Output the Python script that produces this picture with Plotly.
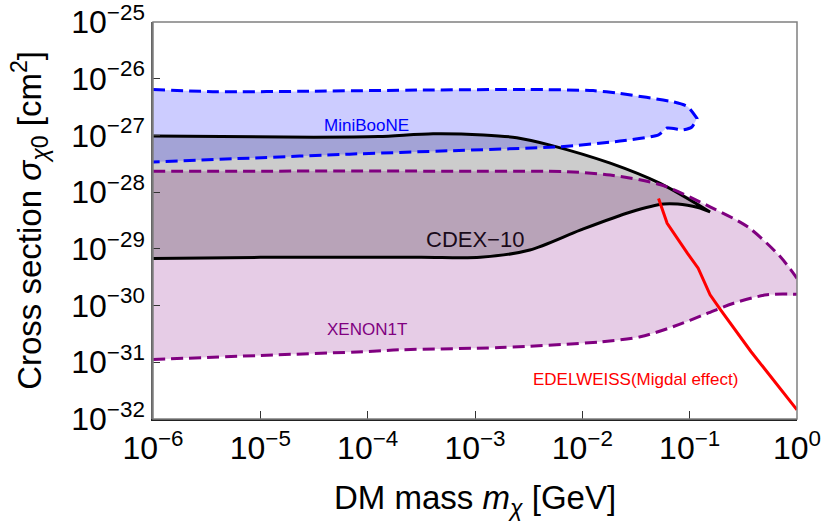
import math
import plotly.graph_objects as go

# ---------------- data ----------------
miniboone_upper_mass = [1e-6, 3.98e-6, 3.16e-5, 3.16e-4, 3.16e-3, 1.26e-2, 2.24e-2, 7.08e-2, 0.0955, 0.117]
miniboone_upper_sigma = [6.46e-27, 5.89e-27, 6.03e-27, 6.31e-27, 6.46e-27, 6.17e-27, 5.50e-27, 3.89e-27, 3.24e-27, 2.00e-27]
miniboone_lower_mass = [0.117, 0.105, 0.0871, 0.0617, 0.0513, 0.0224, 6.17e-3, 5.89e-4, 6.76e-5, 7.94e-6, 1e-6]
miniboone_lower_sigma = [2.00e-27, 1.41e-27, 1.26e-27, 1.35e-27, 1.02e-27, 7.94e-28, 6.31e-28, 5.37e-28, 4.68e-28, 3.98e-28, 3.39e-28]

cdex_upper_mass = [1e-6, 3.16e-5, 1.26e-4, 4.07e-4, 1.20e-3, 2.45e-3, 5.01e-3, 1.82e-2, 5.37e-2, 0.155]
cdex_upper_sigma = [9.77e-28, 9.33e-28, 9.55e-28, 1.07e-27, 1.02e-27, 9.12e-28, 6.76e-28, 3.24e-28, 1.41e-28, 4.47e-29]
cdex_lower_mass = [0.155, 0.120, 0.0955, 0.0575, 0.0282, 9.55e-3, 3.24e-3, 1.12e-3, 3.16e-4, 1e-5, 1e-6]
cdex_lower_sigma = [4.47e-29, 5.37e-29, 5.89e-29, 6.17e-29, 4.47e-29, 2.14e-29, 9.55e-30, 7.08e-30, 7.08e-30, 7.08e-30, 6.76e-30]

xenon_upper_mass = [1e-6, 1e-3, 7.24e-3, 1.82e-2, 5.37e-2, 0.155, 0.347, 0.70, 1.0]
xenon_upper_sigma = [2.34e-28, 2.34e-28, 2.29e-28, 2.00e-28, 1.35e-28, 5.50e-29, 2.45e-29, 7.24e-30, 3.02e-30]
xenon_lower_mass = [1e-6, 1e-5, 1e-4, 2.0e-4, 1.70e-3, 1.48e-2, 3.47e-2, 7.08e-2, 0.145, 0.257, 0.525, 1.0]
xenon_lower_sigma = [1.12e-31, 1.32e-31, 1.55e-31, 1.66e-31, 1.82e-31, 2.29e-31, 2.82e-31, 4.27e-31, 7.24e-31, 1.10e-30, 1.55e-30, 1.58e-30]

edelweiss_mass = [0.0513, 0.0617, 0.0955, 0.120, 0.155, 0.195, 0.372, 0.457, 1.0]
edelweiss_sigma = [7.76e-29, 2.82e-29, 8.32e-30, 4.57e-30, 1.55e-30, 8.32e-31, 1.55e-31, 9.55e-32, 1.45e-32]

x_tick_vals = [1e-6, 1e-5, 1e-4, 1e-3, 1e-2, 1e-1, 1e0]
x_tick_text = ["10<sup>−6</sup>", "10<sup>−5</sup>", "10<sup>−4</sup>", "10<sup>−3</sup>",
               "10<sup>−2</sup>", "10<sup>−1</sup>", "10<sup>0</sup>"]
y_tick_vals = [1e-32, 1e-31, 1e-30, 1e-29, 1e-28, 1e-27, 1e-26, 1e-25]
y_tick_text = ["10<sup>−32</sup>", "10<sup>−31</sup>", "10<sup>−30</sup>", "10<sup>−29</sup>",
               "10<sup>−28</sup>", "10<sup>−27</sup>", "10<sup>−26</sup>", "10<sup>−25</sup>"]

labels = [
    ("MiniBooNE", 9.8e-5, 1.5e-27, "#0000ff", 17),
    ("CDEX−10", 1.0e-3, 1.45e-29, "#1a0a1a", 22),
    ("XENON1T", 9.8e-5, 3.8e-31, "#800080", 17),
    ("EDELWEISS(Migdal effect)", 3.16e-2, 5.0e-32, "#ff0000", 17),
]

FONT = "Liberation Sans, Arial, Helvetica, sans-serif"

fig = go.Figure()

# ---- filled regions ----
fig.add_trace(go.Scatter(
    x=xenon_upper_mass + xenon_lower_mass[::-1],
    y=xenon_upper_sigma + xenon_lower_sigma[::-1],
    fill="toself", fillcolor="rgba(128,0,128,0.2)", mode="lines",
    line=dict(width=0, shape="spline", smoothing=0.8), hoverinfo="skip", showlegend=False))
fig.add_trace(go.Scatter(
    x=cdex_upper_mass + cdex_lower_mass,
    y=cdex_upper_sigma + cdex_lower_sigma,
    fill="toself", fillcolor="rgba(0,0,0,0.2)", mode="lines",
    line=dict(width=0, shape="spline", smoothing=0.8), hoverinfo="skip", showlegend=False))
fig.add_trace(go.Scatter(
    x=miniboone_upper_mass + miniboone_lower_mass,
    y=miniboone_upper_sigma + miniboone_lower_sigma,
    fill="toself", fillcolor="rgba(0,0,255,0.2)", mode="lines",
    line=dict(width=0, shape="spline", smoothing=0.6), hoverinfo="skip", showlegend=False))

# ---- boundary lines ----
fig.add_trace(go.Scatter(
    x=cdex_upper_mass + cdex_lower_mass, y=cdex_upper_sigma + cdex_lower_sigma,
    mode="lines", line=dict(color="#000000", width=3, shape="spline", smoothing=0.8), showlegend=False))
for xs, ys in [(xenon_upper_mass, xenon_upper_sigma), (xenon_lower_mass, xenon_lower_sigma)]:
    fig.add_trace(go.Scatter(
        x=xs, y=ys, mode="lines",
        line=dict(color="#800080", width=3, shape="spline", smoothing=0.8, dash="12px,6px"),
        showlegend=False))
fig.add_trace(go.Scatter(
    x=miniboone_upper_mass + miniboone_lower_mass, y=miniboone_upper_sigma + miniboone_lower_sigma,
    mode="lines", line=dict(color="#0000ff", width=3, shape="spline", smoothing=0.6, dash="12px,6px"),
    showlegend=False))
fig.add_trace(go.Scatter(
    x=edelweiss_mass, y=edelweiss_sigma, mode="lines",
    line=dict(color="#ff0000", width=3), showlegend=False))

for text, xv, yv, col, fs in labels:
    fig.add_annotation(x=math.log10(xv), y=math.log10(yv), xref="x", yref="y", text=text,
                       showarrow=False, font=dict(family=FONT, size=fs, color=col))

# axis titles
fig.add_annotation(x=0.5, y=-0.205, xref="paper", yref="paper",
                   text="DM mass <i>m</i><sub><i>χ</i></sub> [GeV]", showarrow=False,
                   xanchor="center", yanchor="middle", font=dict(family=FONT, size=33, color="#000"))
fig.add_annotation(x=-0.192, y=0.5, xref="paper", yref="paper", textangle=-90,
                   text="Cross section <i>σ</i><sub><i>χ</i>0</sub> [cm<sup>2</sup>]", showarrow=False,
                   xanchor="center", yanchor="middle", font=dict(family=FONT, size=33, color="#000"))

# frame
fig.add_shape(type="rect", xref="paper", yref="paper", x0=0, y0=0, x1=1, y1=1,
              line=dict(color="#808080", width=1.5), layer="above")

fig.update_xaxes(type="log", range=[-6.0001, 0.0001], tickvals=x_tick_vals, ticktext=x_tick_text,
                 ticks="inside", ticklen=8, tickcolor="#333", tickwidth=1, automargin=False,
                 ticklabeloverflow="allow",
                 showline=True, linecolor="#222", linewidth=1.5, showgrid=False, zeroline=False,
                 tickfont=dict(family=FONT, size=32, color="#000"))
fig.update_yaxes(type="log", range=[-32.0001, -24.9999], tickvals=y_tick_vals, ticktext=y_tick_text,
                 ticks="inside", ticklen=7, tickcolor="#333", tickwidth=1, automargin=False,
                 ticklabeloverflow="allow",
                 showline=True, linecolor="#666", linewidth=1.5, showgrid=False, zeroline=False,
                 tickfont=dict(family=FONT, size=32, color="#000"))

fig.update_layout(width=824, height=523, margin=dict(l=153, r=27, t=22, b=104),
                  plot_bgcolor="white", paper_bgcolor="white", showlegend=False)

fig.write_html("out.html", config={"displayModeBar": False},
               post_script="document.body.style.margin='0px';document.body.style.overflow='hidden';")
